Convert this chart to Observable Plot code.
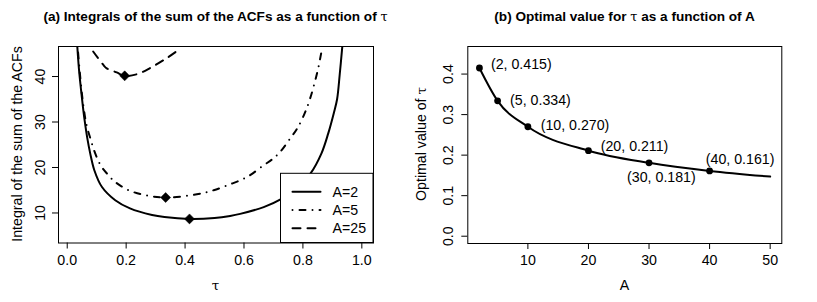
<!DOCTYPE html>
<html><head><meta charset="utf-8">
<script src="https://cdn.jsdelivr.net/npm/d3@7"></script>
<script src="https://cdn.jsdelivr.net/npm/@observablehq/plot@0.6"></script>
<style>
body{margin:0;background:#fff;}
#wrap{position:relative;width:817px;height:302px;font-family:"Liberation Sans",Arial,Helvetica,sans-serif;color:#000;}
.panel{position:absolute;top:0;}
.title{position:absolute;font-weight:bold;font-size:13.6px;white-space:nowrap;transform:translate(-50%,-50%);line-height:1;}
.xlab{position:absolute;font-size:14.2px;transform:translate(-50%,-50%);line-height:1;}
.ylab{position:absolute;font-size:14.2px;transform:translate(-50%,-50%) rotate(-90deg);white-space:nowrap;line-height:1;}
.sym{font-family:"DejaVu Serif","Liberation Serif",serif;font-weight:normal;font-size:0.95em;}
</style></head>
<body><div id="wrap"></div>
<script>
// ---------- data: panel (a) ----------
const seriesNames = ["A=2", "A=5", "A=25"];
const tauA2 = [0.034,0.040,0.047,0.053,0.059,0.068,0.078,0.092,0.118,0.163,0.213,0.288,0.330,0.415,0.500,0.553,0.587,0.667,0.724,0.780,0.826,0.863,0.886,0.905,0.916,0.925,0.934];
const valA2 = [46.8,41.5,37.0,33.5,30.4,26.5,23.1,19.4,15.7,12.8,11.0,9.55,9.1,8.7,8.9,9.35,9.8,11.3,13.0,15.6,18.7,23.1,27.5,32.0,35.0,40.5,46.8];
const tauA5 = [0.035,0.043,0.053,0.065,0.078,0.095,0.115,0.140,0.163,0.209,0.265,0.335,0.440,0.497,0.553,0.610,0.667,0.700,0.725,0.757,0.780,0.814,0.848,0.863];
const valA5 = [46.8,40.7,34.5,29.5,26.5,23.1,20.3,18.3,16.8,15.0,13.9,13.4,14.1,15.0,16.3,17.9,20.5,22.0,23.6,26.4,28.5,33.2,40.7,45.5];
const tauA25 = [0.088,0.122,0.134,0.168,0.195,0.236,0.281,0.338,0.381];
const valA25 = [45.5,42.6,41.8,40.9,40.15,40.5,41.85,44.06,46.0];
const minTau = [0.415, 0.334, 0.195];
const minVal = [8.7, 13.4, 40.15];
const xTicksA = [0, 0.2, 0.4, 0.6, 0.8, 1.0];
const yTicksA = [10, 20, 30, 40];

// ---------- data: panel (b) ----------
const ptA = [2, 5, 10, 20, 30, 40];
const ptTau = [0.415, 0.334, 0.270, 0.211, 0.181, 0.161];
const curveA = [2, 5, 10, 20, 30, 40, 50];
const curveTau = [0.415, 0.334, 0.270, 0.211, 0.181, 0.161, 0.147];
const xTicksB = [10, 20, 30, 40, 50];
const yTicksB = [0.0, 0.1, 0.2, 0.3, 0.4];

// ---------- styles / placements ----------
const seriesDash = [null, "0,7,6,7", "8,7"];
const labelDx = [11.5, 12.5, 12.8, 12.3, 12.4, 30.5];
const labelDy = [-3.7, -0.7, -1, -4.7, 14.3, -11.7];
const labelAnchor = ["start", "start", "start", "start", "middle", "middle"];

const FONT = '"Liberation Sans", Arial, Helvetica, sans-serif';
const FS = 14.2;

const wrap = document.getElementById("wrap");

function legendMark(index, scales, values, dims) {
  const g = d3.create("svg:g");
  const x1 = dims.width - dims.marginRight;
  const y1 = dims.height - dims.marginBottom;
  const bw = 92.5, bh = 69.2;
  const x0 = x1 - bw, y0 = y1 - bh;
  g.append("rect").attr("x", x0).attr("y", y0).attr("width", bw).attr("height", bh)
    .attr("fill", "white").attr("stroke", "black").attr("stroke-width", 1);
  seriesNames.forEach((name, i) => {
    const yy = y0 + 18.5 + i * 18.2;
    const ln = g.append("line").attr("x1", x0 + 12).attr("x2", x0 + 40).attr("y1", yy).attr("y2", yy)
      .attr("stroke", "black").attr("stroke-width", 2).attr("stroke-linecap", "round");
    if (seriesDash[i]) ln.attr("stroke-dasharray", seriesDash[i]);
    g.append("text").attr("x", x0 + 52).attr("y", yy).attr("dy", "0.35em")
      .attr("text-anchor", "start")
      .attr("font-size", FS).attr("font-family", FONT).attr("fill", "black").text(name);
  });
  return g.node();
}

const seriesData = [d3.zip(tauA2, valA2), d3.zip(tauA5, valA5), d3.zip(tauA25, valA25)];

const plotA = Plot.plot({
  width: 408, height: 302,
  marginLeft: 58, marginRight: 35, marginTop: 46, marginBottom: 59.5,
  style: {fontFamily: FONT, fontSize: FS + "px", color: "black", background: "transparent"},
  x: {domain: [-0.0296, 1.0396]},
  y: {domain: [3.4, 46.6]},
  marks: [
    ...seriesData.map((data, i) => Plot.line(data, {
      x: d => d[0], y: d => d[1], stroke: "black", strokeWidth: 2,
      strokeDasharray: seriesDash[i] || undefined, curve: "catmull-rom", clip: true
    })),
    Plot.dot(d3.range(minTau.length), {x: i => minTau[i], y: i => minVal[i], symbol: "diamond2", r: 4.5, fill: "black", stroke: "black", strokeWidth: 0.5}),
    Plot.axisX({ticks: xTicksA, tickFormat: d3.format(".1f"), tickSize: 6, tickPadding: 5.5, label: null, fontSize: FS}),
    Plot.axisY({ticks: yTicksA, tickSize: 6, tickFormat: () => "", label: null}),
    Plot.text(yTicksA, {y: d => d, text: d => String(d), frameAnchor: "left", rotate: -90, dx: -18, textAnchor: "middle", lineAnchor: "middle", fontSize: FS}),
    legendMark,
    Plot.frame({stroke: "black", strokeWidth: 1})
  ]
});

const plotB = Plot.plot({
  width: 409, height: 302,
  marginLeft: 59.3, marginRight: 35.7, marginTop: 46, marginBottom: 59,
  style: {fontFamily: FONT, fontSize: FS + "px", color: "black", background: "transparent"},
  x: {domain: [0.08, 51.92]},
  y: {domain: [-0.018, 0.468]},
  marks: [
    Plot.line(d3.zip(curveA, curveTau), {x: d => d[0], y: d => d[1], stroke: "black", strokeWidth: 2, curve: "monotone-x"}),
    Plot.dot(d3.range(ptA.length), {x: i => ptA[i], y: i => ptTau[i], r: 3.4, fill: "black"}),
    ...ptA.map((a, i) => Plot.text([i], {
      x: j => ptA[j], y: j => ptTau[j], text: j => `(${ptA[j]}, ${ptTau[j].toFixed(3)})`,
      dx: labelDx[i], dy: labelDy[i], textAnchor: labelAnchor[i], lineAnchor: "middle", fontSize: FS
    })),
    Plot.axisX({ticks: xTicksB, tickSize: 6, tickPadding: 5.5, label: null, fontSize: FS}),
    Plot.axisY({ticks: yTicksB, tickSize: 6, tickFormat: () => "", label: null}),
    Plot.text(yTicksB, {y: d => d, text: d => d3.format(".1f")(d), frameAnchor: "left", rotate: -90, dx: -19.3, textAnchor: "middle", lineAnchor: "middle", fontSize: FS}),
    Plot.frame({stroke: "black", strokeWidth: 1})
  ]
});

plotA.classList.add("panel"); plotA.style.left = "0px";
plotB.classList.add("panel"); plotB.style.left = "408px";
wrap.appendChild(plotA);
wrap.appendChild(plotB);

function addDiv(cls, html, x, y) {
  const d = document.createElement("div");
  d.className = cls; d.innerHTML = html;
  d.style.left = x + "px"; d.style.top = y + "px";
  wrap.appendChild(d);
}
addDiv("title", '(a) Integrals of the sum of the ACFs as a function of <span class="sym">τ</span>', 215.5, 17);
addDiv("title", '(b) Optimal value for <span class="sym">τ</span> as a function of A', 624.5, 17);
addDiv("xlab", '<span class="sym">τ</span>', 215.5, 285);
addDiv("xlab", 'A', 624.5, 285);
addDiv("ylab", 'Integral of the sum of the ACFs', 17.3, 144.3);
addDiv("ylab", 'Optimal value of <span class="sym">τ</span>', 421.3, 144.3);
</script>
</body></html>
